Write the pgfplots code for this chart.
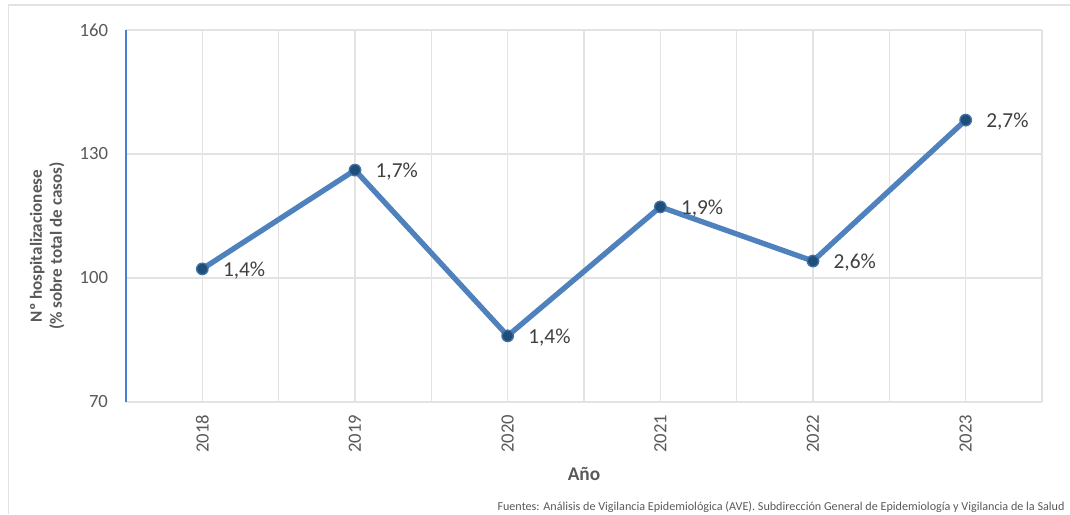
\documentclass[border=0pt]{standalone}
\usepackage{pgfplots}
\pgfplotsset{compat=1.18}
\usepackage{fontspec}
\setmainfont{Carlito}

\definecolor{linea}{HTML}{4F81BD}
\definecolor{punto}{HTML}{1F4E79}
\definecolor{rejilla}{HTML}{E3E3E3}
\definecolor{texto}{HTML}{595959}
\definecolor{etiqueta}{HTML}{404040}
\definecolor{ejey}{HTML}{4A7FD0}

\begin{document}
\begin{tikzpicture}
  \useasboundingbox (0,0) rectangle (802.5pt,385.5pt);
  % marco exterior (solo borde superior e izquierdo visibles)
  \draw[color=rejilla, line width=1.2pt] (6.4pt,0) -- (6.4pt,381.8pt) -- (802.5pt,381.8pt);
  \begin{axis}[
    at={(94.5pt,84pt)}, anchor=south west,
    scale only axis, width=687pt, height=279pt,
    xmin=-0.5, xmax=5.5, ymin=70, ymax=160,
    xtick={0,1,2,3,4,5},
    xticklabels={2018,2019,2020,2021,2022,2023},
    ytick={70,100,130,160},
    minor xtick={-0.5,0.5,1.5,2.5,3.5,4.5,5.5},
    grid=both,
    major grid style={color=rejilla, line width=0.9pt},
    minor grid style={color=rejilla, line width=0.9pt},
    major tick length=0pt, minor tick length=0pt,
    axis x line*=bottom, axis y line*=left,
    axis line style={-},
    x axis line style={color=rejilla, line width=1pt},
    y axis line style={color=ejey, line width=0.9pt},
    tick label style={font=\fontsize{14}{16}\selectfont, color=texto},
    /pgf/number format/assume math mode=true,
    yticklabel style={xshift=-10pt},
    xticklabel style={rotate=90, anchor=east, xshift=-6pt, yshift=0pt},
    clip=false,
  ]
    \addplot[color=linea, line width=4pt, mark=*,
      mark options={fill=punto, draw=linea!70!punto, line width=1pt},
      mark size=4.3pt,
      point meta=explicit symbolic,
      nodes near coords,
      every node near coord/.style={anchor=west, inner sep=0pt, xshift=15pt, yshift=-1.2pt,
        font=\fontsize{16}{18}\selectfont, color=etiqueta},
    ] coordinates {
      (0,102.2) [1,4\%]
      (1,126.1) [1,7\%]
      (2,86.0)  [1,4\%]
      (3,117.2) [1,9\%]
      (4,104.1) [2,6\%]
      (5,138.2) [2,7\%]
    };
    \node[font=\bfseries\fontsize{14.5}{16}\selectfont, color=texto]
      at (axis description cs:0.5,-0.194) {Año};
    \node[font=\bfseries\fontsize{12.8}{15}\selectfont, color=texto, rotate=90, align=center]
      at (axis description cs:-0.086,0.419) {Nº hospitalizacionese\\(\% sobre total de casos)};
    \node[font=\fontsize{9.1}{10}\selectfont, color=texto, anchor=base east, inner sep=0pt]
      at (axis description cs:1.025,-0.293)
      {Fuentes: Análisis de Vigilancia Epidemiológica (AVE). Subdirección General de Epidemiología y Vigilancia de la Salud};
  \end{axis}
\end{tikzpicture}
\end{document}
